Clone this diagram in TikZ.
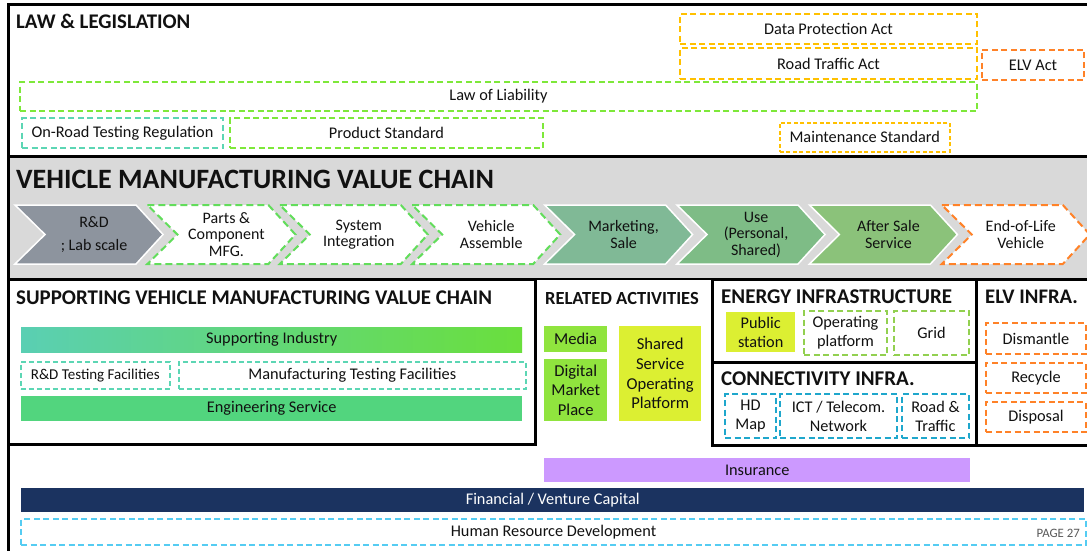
\documentclass[tikz,border=0pt]{standalone}
\usepackage{fontspec}
\setmainfont{Carlito}
\definecolor{amber}{HTML}{FFC000}
\definecolor{elvorange}{HTML}{FF8228}
\definecolor{lawgreen}{HTML}{7EE83A}
\definecolor{tealdash}{HTML}{5CD6B4}
\definecolor{chevgreen}{HTML}{62DD5B}
\definecolor{rdgrey}{HTML}{8D949E}
\definecolor{mkt}{HTML}{80B996}
\definecolor{usec}{HTML}{7EBC86}
\definecolor{aft}{HTML}{8BC27A}
\definecolor{vcgrey}{HTML}{D9D9D9}
\definecolor{supL}{HTML}{5ACFB3}
\definecolor{supR}{HTML}{6ADF3C}
\definecolor{eng}{HTML}{52D57E}
\definecolor{mediac}{HTML}{90E43E}
\definecolor{yg}{HTML}{DCEF32}
\definecolor{energydash}{HTML}{92D050}
\definecolor{conn}{HTML}{1FA7CC}
\definecolor{insc}{HTML}{CC99FF}
\definecolor{navy}{HTML}{1B3360}
\definecolor{hrblue}{HTML}{55CCF2}
\definecolor{ink}{HTML}{111111}
\newcommand\bx[7]{\node[#2,anchor=north west,inner sep=0pt,align=center,
  minimum width={(#5)-(#3)},minimum height={(#6)-(#4)}] (#1) at (#3,#4) {#7};}
\newcommand\chev[4]{%
  \draw[#3] (#2,205) -- ++(121,0) -- ++(27,29.5) -- ++(-27,29.5) -- ++(-121,0) -- ++(30,-29.5) -- cycle;
  \node[chevtxt] (#1) at ({#2+79},234.5) {#4};}
\begin{document}
\begin{tikzpicture}[x=1pt,y=-1pt,
  every node/.style={text=ink},
  dbox/.style={draw=#1,dash pattern=on 6pt off 3.5pt,line width=2pt,fill=white,font=\fontsize{16.3}{19}\selectfont},
  tbox/.style={draw=#1,dash pattern=on 5pt off 3pt,line width=1.6pt,fill=white,font=\fontsize{16.3}{19}\selectfont},
  sbox/.style={fill=#1,font=\fontsize{16.3}{19}\selectfont},
  rbox/.style={fill=#1,font=\fontsize{16.6}{19.7}\selectfont},
  ebox/.style={font=\fontsize{16.3}{19}\selectfont},
  ttl/.style={anchor=base west,inner sep=0pt,font=\bfseries\fontsize{#1}{#1}\selectfont},
  chevtxt/.style={align=center,inner sep=0pt,font=\fontsize{16}{16.5}\selectfont},
  solidchev/.style={fill=#1,draw=white,line width=1.5pt},
  dashchev/.style={fill=white,draw=#1,dash pattern=on 7pt off 4pt,line width=2pt},
  frame/.style={line width=3pt,draw=black}
]
\useasboundingbox (0,0) rectangle (1087,551);
\fill[white] (0,0) rectangle (1087,551);
% value chain band
\fill[vcgrey] (8,157) rectangle (1090,278);
% frames
\draw[frame] (8,551) -- (8,5) -- (1092,5);
\draw[frame] (8,156) -- (1092,156);
\draw[line width=2pt] (8,279) -- (1092,279);
\draw[frame] (8,279) rectangle (535,444);
\draw[frame] (712.5,279) rectangle (976,362);
\draw[frame] (712.5,362) rectangle (976,445);
\draw[frame] (976,279) rectangle (1095,445);

% titles
\node[ttl=20.8] (lawT) at (16,29) {LAW \& LEGISLATION};
\node[ttl=28] (vcT) at (16,188) {VEHICLE MANUFACTURING VALUE CHAIN};
\node[ttl=20.9] (supT) at (16,304) {SUPPORTING VEHICLE MANUFACTURING VALUE CHAIN};
\node[ttl=18.5] (relT) at (545,304) {RELATED ACTIVITIES};
\node[ttl=21] (enT) at (721,303) {ENERGY INFRASTRUCTURE};
\node[ttl=21] (coT) at (721,385) {CONNECTIVITY INFRA.};
\node[ttl=20.7] (elT) at (985,303) {ELV INFRA.};

% law boxes
\bx{dpa}{dbox=amber}{679}{13}{976}{43}{Data Protection Act}
\bx{rta}{dbox=amber}{679}{47}{976}{78}{Road Traffic Act}
\bx{elvact}{dbox=elvorange}{981}{49}{1083}{79}{ELV Act}
\bx{lol}{dbox=lawgreen}{19}{81}{976}{110}{\raisebox{-1.5pt}{Law of Liability}}
\bx{ort}{dbox=tealdash}{21}{117}{222}{147}{On-Road Testing Regulation}
\bx{ps}{dbox=lawgreen}{229}{117}{542}{147}{Product Standard}
\bx{ms}{draw=amber,dash pattern=on 4pt off 2.5pt,line width=1.5pt,fill=white,font=\fontsize{16.3}{19}\selectfont}{779}{122}{949}{151}{Maintenance Standard}

% chevrons
\chev{rd}{15}{solidchev=rdgrey}{R\&D\\[6pt]; Lab scale}
\chev{parts}{147.4}{dashchev=chevgreen}{Parts \&\\Component\\MFG.}
\chev{sysint}{279.8}{dashchev=chevgreen}{System\\Integration}
\chev{vassy}{412.2}{dashchev=chevgreen}{Vehicle\\Assemble}
\chev{mkt}{544.6}{solidchev=mkt}{Marketing,\\Sale}
\chev{use}{677}{solidchev=usec}{Use\\(Personal,\\Shared)}
\chev{after}{809.4}{solidchev=aft}{After Sale\\Service}
\chev{eol}{941.8}{dashchev=elvorange}{End-of-Life\\Vehicle}

% supporting
\bx{si}{left color=supL,right color=supR,font=\fontsize{16.3}{19}\selectfont}{21}{327}{522}{352}{Supporting Industry}
\bx{rdt}{tbox=tealdash,font=\fontsize{15}{18}\selectfont}{20}{361}{169}{388}{R\&D Testing Facilities}
\bx{mtf}{tbox=tealdash}{178}{361}{525}{388}{Manufacturing Testing Facilities}
\bx{es}{sbox=eng}{21}{396}{522}{421}{Engineering Service}

% related activities
\bx{media}{rbox=mediac}{544}{326}{607}{352}{Media}
\bx{dmp}{rbox=mediac}{544}{359}{607}{421}{Digital\\Market\\Place}
\bx{ssop}{rbox=yg}{619}{326}{701}{421}{Shared\\Service\\Operating\\Platform}

% energy
\bx{pub}{ebox,fill=yg}{726}{312}{795}{352}{Public\\station}
\bx{op}{dbox=energydash,ebox}{803}{310}{886}{354}{Operating\\platform}
\bx{grid}{dbox=energydash,ebox}{893}{310}{968}{354}{Grid}

% connectivity
\bx{hd}{dbox=conn,ebox}{724}{393}{775}{437}{HD\\Map}
\bx{ict}{dbox=conn,ebox}{779}{393}{896}{437}{ICT / Telecom.\\Network}
\bx{road}{dbox=conn,ebox}{901}{393}{968}{437}{Road \&\\Traffic}

% ELV infra
\bx{dism}{dbox=elvorange,ebox}{985}{322}{1085}{353}{Dismantle}
\bx{recy}{dbox=elvorange,ebox}{985}{362}{1085}{392}{Recycle}
\bx{disp}{dbox=elvorange,ebox}{985}{401}{1085}{431}{Disposal}

% bottom
\bx{ins}{sbox=insc}{544}{458}{970}{482}{Insurance}
\bx{fin}{sbox=navy,text=white}{21}{488}{1084}{512}{Financial / Venture Capital}
\bx{hr}{dbox=hrblue}{20}{518}{1085}{544}{Human Resource Development}
\node[anchor=east,inner sep=0pt,text=black!65,font=\fontsize{12.8}{13}\selectfont] (pg) at (1080,533) {PAGE 27};
\end{tikzpicture}
\end{document}
